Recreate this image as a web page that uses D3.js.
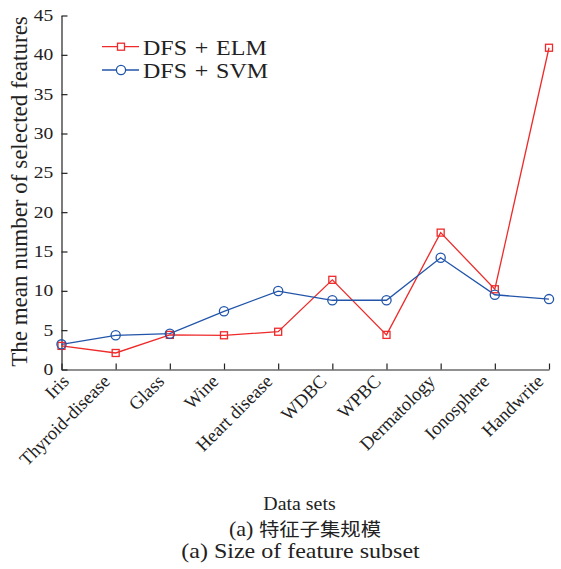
<!DOCTYPE html>
<html><head><meta charset="utf-8">
<script src="https://cdn.jsdelivr.net/npm/d3@7"></script>
<style>body{margin:0;background:#fff}svg{display:block}text{font-family:"Liberation Serif","Times New Roman",serif;fill:#222}</style>
</head><body><svg id="c" width="561" height="569"></svg>
<script>
const categories = ["Iris","Thyroid-disease","Glass","Wine","Heart disease","WDBC","WPBC","Dermatology","Ionosphere","Handwrite"];
const elmValues = [3.0,2.1,4.4,4.35,4.8,11.4,4.4,17.4,10.2,40.9];
const svmValues = [3.2,4.35,4.55,7.4,9.97,8.8,8.8,14.2,9.5,8.95];
const yTicks = [0,5,10,15,20,25,30,35,40,45];
const seriesNames = ["DFS + ELM","DFS + SVM"];
const colors = ["#ee2a2a","#2255aa"];

const svg = d3.select("#c");
const x = d3.scalePoint().domain(categories).range([61.5,549]);
const y = d3.scaleLinear().domain([0,45]).range([369.5,15.5]);
const ink = "#222";

// Y axis
const ya = svg.append("g").attr("transform","translate(61.5,0)")
  .call(d3.axisLeft(y).tickValues(yTicks).tickSizeInner(-6).tickSizeOuter(0).tickPadding(6.8));
ya.select(".domain").attr("stroke",ink).attr("stroke-width",1.2);
ya.selectAll(".tick line").attr("stroke",ink).attr("stroke-width",1.2);
ya.selectAll(".tick text").attr("font-size",16).attr("font-family","Liberation Serif").attr("fill",ink)
  .attr("transform","scale(1.22,1)");

// X axis
const xa = svg.append("g").attr("transform","translate(0,369.5)")
  .call(d3.axisBottom(x).tickSizeInner(-6).tickSizeOuter(0).tickPadding(0));
xa.select(".domain").attr("stroke",ink).attr("stroke-width",1.2);
xa.selectAll(".tick line").attr("stroke",ink).attr("stroke-width",1.2);
xa.selectAll(".tick text").attr("font-size",18.5).attr("font-family","Liberation Serif").attr("fill",ink)
  .attr("text-anchor","end").attr("dy","0").attr("y",0)
  .attr("transform",(d,i)=>`translate(${i===0?8:-5},13) rotate(-45)`);

// lines
const line = d3.line().x((d,i)=>x(categories[i])).y(d=>y(d));
[elmValues,svmValues].forEach((vals,k)=>{
  svg.append("path").datum(vals).attr("d",line).attr("fill","none")
    .attr("stroke",colors[k]).attr("stroke-width",1.3);
});
// markers
svg.selectAll(".sq").data(elmValues).enter().append("rect")
  .attr("x",(d,i)=>x(categories[i])-3.5).attr("y",d=>y(d)-3.5)
  .attr("width",7).attr("height",7).attr("fill","none").attr("stroke",colors[0]).attr("stroke-width",1.3);
svg.selectAll(".ci").data(svmValues).enter().append("circle")
  .attr("cx",(d,i)=>x(categories[i])).attr("cy",d=>y(d)).attr("r",4.6)
  .attr("fill","none").attr("stroke",colors[1]).attr("stroke-width",1.3);

// legend
const lg = svg.append("g");
seriesNames.forEach((n,k)=>{
  const yy = 46.7 + k*23.3;
  lg.append("line").attr("x1",102).attr("x2",139).attr("y1",yy).attr("y2",yy)
    .attr("stroke",colors[k]).attr("stroke-width",1.3);
  if(k===0) lg.append("rect").attr("x",121-3.5).attr("y",yy-3.5).attr("width",7).attr("height",7)
    .attr("fill","#fff").attr("stroke",colors[k]).attr("stroke-width",1.3);
  else lg.append("circle").attr("cx",121).attr("cy",yy).attr("r",4.6)
    .attr("fill","#fff").attr("stroke",colors[k]).attr("stroke-width",1.3);
  lg.append("text").attr("transform",`translate(143,${yy+8.3}) scale(1.2,1)`)
    .attr("font-size",20).attr("word-spacing",1.5).text(n);
});

// axis titles
svg.append("text").attr("transform","translate(27,191.5) rotate(-90)").attr("text-anchor","middle")
  .attr("font-size",23).text("The mean number of selected features");
svg.append("text").attr("transform","translate(299.5,510) scale(1.02,1)").attr("text-anchor","middle")
  .attr("font-size",19.5).text("Data sets");
svg.append("text").attr("transform","translate(305,536) scale(1.1,1)").attr("text-anchor","middle").attr("font-size",20)
  .html('(a) <tspan font-family="Noto Sans CJK SC" font-size="18.5">特征子集规模</tspan>');
svg.append("text").attr("transform","translate(300.5,558) scale(1.2,1)").attr("text-anchor","middle").attr("font-size",20)
  .text("(a) Size of feature subset");
</script></body></html>
